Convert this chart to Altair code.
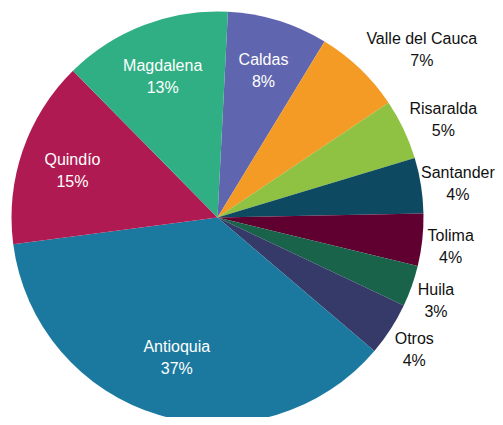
import altair as alt
import pandas as pd
import math

# Data (clockwise from the top)
names = ["Caldas", "Valle del Cauca", "Risaralda", "Santander", "Tolima",
         "Huila", "Otros", "Antioquia", "Quindío", "Magdalena"]
shares = [7.9, 6.9, 4.75, 4.35, 4.1, 3.25, 4.2, 36.75, 14.7, 13.2]
colors = ["#5F66AF", "#F49B26", "#8FC142", "#0D4A62", "#5F0030",
          "#19634A", "#353A69", "#1B79A0", "#B01A52", "#30AF84"]

df = pd.DataFrame({"name": names, "share": shares, "idx": list(range(len(names)))})
total = sum(shares)

# Layout
start = math.radians(2.9)
cx, cy, R = 209.5, 209.5, 206
W, H = 487, 409
FONT = "Liberation Sans"
R_OUT = 211     # radius of the outside-label anchor
CHAR_W = 7.8    # estimated average glyph width (px)
HALF_H = 22     # half height of a two-line label
XMAX = W - 2 - cx  # rightmost allowed label edge, relative to centre

theta_scale = alt.Scale(domain=[0, total], range=[start, start + 2 * math.pi])
color = alt.Color("name:N", scale=alt.Scale(domain=names, range=colors), legend=None)

base = alt.Chart(df).transform_window(
    cum="sum(share)", sort=[alt.SortField("idx")], frame=[None, 0]
).transform_calculate(
    mid="datum.cum - datum.share / 2",
    pct="format(datum.share, '.0f') + '%'",
).transform_calculate(
    label="datum.name + '\\n' + datum.pct",
    a=f"{start} + datum.mid / {total} * 2 * PI",
    w=f"max(length(datum.name), length(datum.pct)) * {CHAR_W}",
    rin="160 - 0.45 * datum.share",
).transform_calculate(
    ox=f"min({R_OUT} * sin(datum.a) + datum.w / 2, {XMAX} - datum.w / 2)",
    oy=f"-{R_OUT} * cos(datum.a) - {HALF_H} * 1.2 * cos(datum.a)",
).transform_calculate(
    rc="sqrt(datum.ox * datum.ox + datum.oy * datum.oy)",
    ac="atan2(datum.ox, -datum.oy)",
).transform_calculate(
    tdat=f"((datum.ac - {start}) / (2 * PI)) * {total}",
).transform_calculate(
    tpos=f"datum.tdat < 0 ? datum.tdat + {total} : datum.tdat",
)

arcs = alt.Chart(df).mark_arc(radius=R).encode(
    theta=alt.Theta("share:Q", stack=True, scale=theta_scale),
    color=color,
    order=alt.Order("idx:Q"),
    x=alt.value(cx), y=alt.value(cy),
)

inside = base.transform_filter("datum.share > 7.5").mark_text(
    font=FONT, fontSize=16, color="white", lineBreak="\n",
    lineHeight=22, align="center", baseline="middle", dy=-8
).encode(
    theta=alt.Theta("mid:Q", stack=None, scale=theta_scale),
    radius=alt.Radius("rin:Q", scale=None),
    text="label:N",
    x=alt.value(cx), y=alt.value(cy),
)

outside = base.transform_filter("datum.share <= 7.5").mark_text(
    font=FONT, fontSize=16, color="#111111", lineBreak="\n",
    lineHeight=22, align="center", baseline="middle", dy=-7
).encode(
    theta=alt.Theta("tpos:Q", stack=None, scale=theta_scale),
    radius=alt.Radius("rc:Q", scale=None),
    text="label:N",
    x=alt.value(cx), y=alt.value(cy),
)

chart = alt.layer(arcs, inside, outside).properties(
    width=W, height=H,
    autosize=alt.AutoSizeParams(type="none"),
    padding=0,
).configure_view(stroke=None)

chart.save("out.html", embed_options={"renderer": "svg", "actions": False})
